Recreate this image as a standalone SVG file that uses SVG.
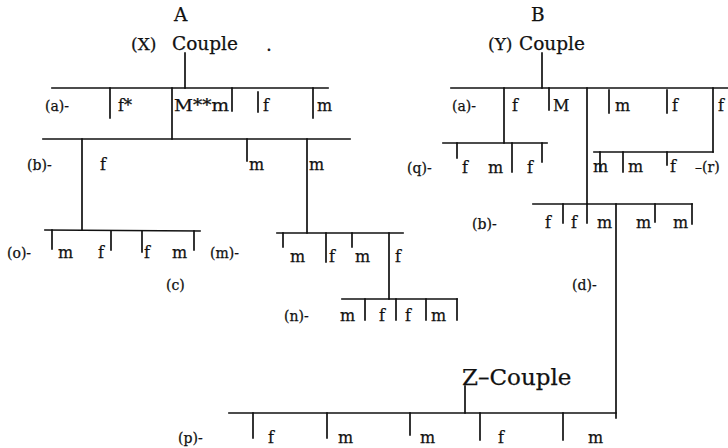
<svg xmlns="http://www.w3.org/2000/svg" width="728" height="448" viewBox="0 0 728 448">
<style>
text{font-family:"DejaVu Serif","Liberation Serif",serif;fill:#111;stroke:#111;stroke-width:0.25}
.l{font-size:16px}
.d{font-size:14px}
.t{font-size:18.5px}
.p{font-size:17px}
.z{font-size:23px}
line,path{stroke:#111;stroke-width:1.7;fill:none;stroke-linecap:square}
</style>
<rect width="728" height="448" fill="#fff"/>
<g id="titleA"><text class="t" x="174" y="21">A</text><text class="p" x="131" y="50">(X)</text><text class="t" x="172" y="50">Couple</text><text class="t" x="266" y="51">.</text></g>
<g id="titleB"><text class="t" x="531" y="21">B</text><text class="p" x="488" y="50">(Y)</text><text class="t" x="519" y="50">Couple</text></g>
<g id="A-a">
<line x1="52" y1="88" x2="328" y2="88"/>
<line x1="110" y1="88" x2="110" y2="118"/><line x1="232" y1="88" x2="232" y2="111"/><line x1="258" y1="92" x2="258" y2="112"/><line x1="313" y1="88" x2="313" y2="118"/>
<text class="d" x="45" y="111">(a)-</text><text class="l" x="118" y="111">f*</text><text class="l" x="174" y="111" textLength="55" lengthAdjust="spacingAndGlyphs">M**m</text><text class="l" x="263" y="111">f</text><text class="l" x="317" y="111">m</text>
</g>
<g id="A-b">
<line x1="43" y1="139" x2="350" y2="139"/>
<line x1="247" y1="139" x2="247" y2="161"/>
<text class="d" x="27" y="170">(b)-</text><text class="l" x="100" y="170">f</text><text class="l" x="249" y="170">m</text><text class="l" x="309" y="170">m</text>
</g>
<g id="A-o">
<line x1="45" y1="230" x2="200" y2="231"/>
<line x1="52" y1="230" x2="52" y2="249"/><line x1="111" y1="231" x2="111" y2="250"/><line x1="142" y1="231" x2="142" y2="252"/><line x1="194" y1="231" x2="194" y2="250"/>
<text class="d" x="7" y="258">(o)-</text><text class="l" x="58" y="258">m</text><text class="l" x="98" y="258">f</text><text class="l" x="144" y="258">f</text><text class="l" x="172" y="258">m</text>
<text class="d" x="166" y="290">(c)</text>
</g>
<g id="A-m">
<line x1="277" y1="233" x2="403" y2="233"/>
<line x1="283" y1="233" x2="283" y2="247"/><line x1="326" y1="233" x2="326" y2="262"/><line x1="352" y1="233" x2="352" y2="247"/>
<text class="d" x="210" y="258">(m)-</text><text class="l" x="290" y="262">m</text><text class="l" x="329" y="262">f</text><text class="l" x="355" y="262">m</text><text class="l" x="395" y="262">f</text>
</g>
<g id="A-n">
<line x1="342" y1="299" x2="457" y2="299"/>
<line x1="365" y1="299" x2="365" y2="320"/><line x1="396" y1="299" x2="396" y2="320"/><line x1="426" y1="299" x2="426" y2="320"/><line x1="457" y1="299" x2="457" y2="320"/>
<text class="d" x="284" y="321">(n)-</text><text class="l" x="340" y="321">m</text><text class="l" x="379" y="321">f</text><text class="l" x="405" y="321">f</text><text class="l" x="431" y="321">m</text>
</g>
<g id="B-a">
<line x1="451" y1="88" x2="728" y2="88"/>
<line x1="549" y1="88" x2="549" y2="110"/><line x1="609" y1="90" x2="609" y2="113"/><line x1="667" y1="90" x2="667" y2="113"/>
<text class="d" x="452" y="111">(a)-</text><text class="l" x="512" y="111">f</text><text class="l" x="553" y="111">M</text><text class="l" x="615" y="111">m</text><text class="l" x="672" y="111">f</text><text class="l" x="718" y="111">f</text>
</g>
<g id="B-q">
<line x1="443" y1="143" x2="547" y2="143"/>
<line x1="457" y1="143" x2="457" y2="158"/><line x1="512" y1="143" x2="512" y2="172"/><line x1="542" y1="143" x2="542" y2="162"/>
<text class="d" x="407" y="173">(q)-</text><text class="l" x="462" y="173">f</text><text class="l" x="488" y="173">m</text><text class="l" x="527" y="173">f</text>
</g>
<g id="B-r">
<line x1="594" y1="152" x2="713" y2="152"/>
<line x1="600" y1="152" x2="600" y2="171"/><line x1="623" y1="152" x2="623" y2="172"/><line x1="667" y1="152" x2="667" y2="165"/>
<text class="l" x="593" y="172">m</text><text class="l" x="628" y="172">m</text><text class="l" x="670" y="172">f</text><text class="d" x="695" y="172">–(r)</text>
</g>
<g id="B-b">
<line x1="533" y1="204" x2="692" y2="204"/>
<line x1="563" y1="204" x2="563" y2="223"/><line x1="587" y1="204" x2="587" y2="223"/><line x1="655" y1="204" x2="655" y2="222"/><line x1="692" y1="204" x2="692" y2="224"/>
<text class="d" x="472" y="229">(b)-</text><text class="l" x="545" y="228">f</text><text class="l" x="571" y="228">f</text><text class="l" x="597" y="228">m</text><text class="l" x="636" y="228">m</text><text class="l" x="673" y="228">m</text>
<text class="d" x="572" y="290">(d)-</text>
</g>
<g id="Z-p">
<text class="z" x="462" y="385">Z–Couple</text>
<line x1="229" y1="413" x2="616" y2="413"/>
<line x1="253" y1="413" x2="253" y2="438"/><line x1="327" y1="413" x2="327" y2="438"/><line x1="410" y1="413" x2="410" y2="435"/><line x1="480" y1="413" x2="480" y2="440"/><line x1="563" y1="413" x2="563" y2="440"/>
<text class="d" x="178" y="443">(p)-</text><text class="l" x="268" y="443">f</text><text class="l" x="338" y="443">m</text><text class="l" x="420" y="443">m</text><text class="l" x="498" y="443">f</text><text class="l" x="588" y="443">m</text>
</g>
<g id="connectors">
<line x1="185" y1="53" x2="185" y2="88"/>
<line x1="172" y1="88" x2="172" y2="139"/>
<line x1="82" y1="139" x2="82" y2="230"/>
<line x1="307" y1="139" x2="307" y2="233"/>
<line x1="389" y1="233" x2="389" y2="299"/>
<line x1="542" y1="53" x2="542" y2="88"/>
<line x1="504" y1="88" x2="504" y2="143"/>
<line x1="587" y1="88" x2="587" y2="204"/>
<line x1="713" y1="88" x2="713" y2="152"/>
<line x1="616" y1="204" x2="616" y2="418"/>
<line x1="465" y1="386" x2="465" y2="413"/>
</g>
</svg>
